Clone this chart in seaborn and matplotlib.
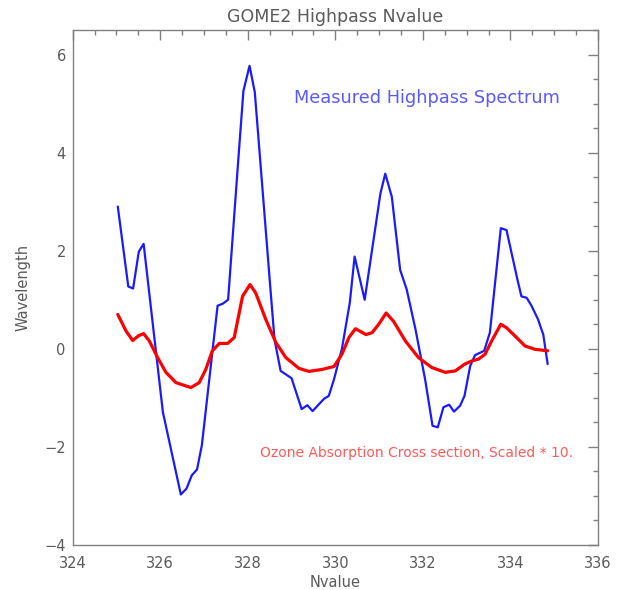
import matplotlib
matplotlib.use("Agg")
import matplotlib.pyplot as plt
from matplotlib.ticker import MultipleLocator
import seaborn as sns
import pandas as pd

# Measured highpass spectrum (blue)
blue_x = [325.03, 325.27, 325.38, 325.51, 325.62, 326.06, 326.47, 326.60, 326.72,
          326.84, 326.95, 327.31, 327.43, 327.55, 327.77, 327.90, 328.04,
          328.16, 328.50, 328.61, 328.75, 329.00, 329.23, 329.36, 329.48, 329.74,
          329.85, 329.97, 330.15, 330.33, 330.44, 330.67, 331.03, 331.14, 331.29,
          331.48, 331.63, 331.83, 332.05, 332.22, 332.34, 332.47, 332.60, 332.71,
          332.85, 332.95, 333.08, 333.19, 333.40, 333.53, 333.68, 333.78, 333.91,
          334.16, 334.25, 334.37, 334.48, 334.63, 334.75, 334.85]
blue_y = [2.90, 1.27, 1.23, 1.98, 2.14, -1.29, -2.97, -2.85, -2.58,
          -2.46, -1.97, 0.88, 0.92, 1.00, 3.70, 5.26, 5.77,
          5.23, 1.41, 0.19, -0.45, -0.60, -1.23, -1.15, -1.27, -1.02,
          -0.96, -0.62, 0.00, 0.94, 1.88, 1.00, 3.17, 3.57, 3.10,
          1.61, 1.21, 0.40, -0.62, -1.57, -1.60, -1.19, -1.14, -1.28,
          -1.16, -0.96, -0.35, -0.13, -0.04, 0.33, 1.61, 2.46, 2.42,
          1.41, 1.07, 1.04, 0.88, 0.60, 0.29, -0.31]

# Ozone absorption cross section, scaled * 10 (red)
red_x = [325.03, 325.22, 325.37, 325.51, 325.62, 325.75, 325.94, 326.13, 326.36,
         326.70, 326.89, 327.04, 327.19, 327.35, 327.54, 327.69, 327.88, 328.05,
         328.18, 328.41, 328.64, 328.87, 329.17, 329.40, 329.70, 329.97, 330.15,
         330.31, 330.46, 330.70, 330.84, 330.99, 331.16, 331.33, 331.60, 331.90,
         332.20, 332.51, 332.74, 332.96, 333.11, 333.27, 333.42, 333.57, 333.78,
         333.91, 334.14, 334.33, 334.56, 334.85]
red_y = [0.70, 0.36, 0.17, 0.27, 0.31, 0.16, -0.18, -0.48, -0.69,
         -0.79, -0.69, -0.42, -0.04, 0.11, 0.11, 0.23, 1.07, 1.31,
         1.14, 0.60, 0.13, -0.18, -0.40, -0.46, -0.42, -0.36, -0.11,
         0.23, 0.41, 0.29, 0.33, 0.50, 0.73, 0.56, 0.16, -0.18,
         -0.38, -0.48, -0.45, -0.31, -0.25, -0.21, -0.11, 0.16, 0.50,
         0.43, 0.23, 0.06, -0.01, -0.04]

title = "GOME2 Highpass Nvalue"
xlabel = "Nvalue"
ylabel = "Wavelength"
blue_label = "Measured Highpass Spectrum"
red_label = "Ozone Absorption Cross section, Scaled * 10."

sns.set_style("white")
plt.rcParams['font.family'] = ['DejaVu Sans']

fig = plt.figure(figsize=(6.24, 5.90), dpi=100)
ax = fig.add_axes([72.7 / 624, 1 - 545 / 590, (598 - 72.7) / 624, (545 - 30) / 590])

df_b = pd.DataFrame({"x": blue_x, "y": blue_y})
df_r = pd.DataFrame({"x": red_x, "y": red_y})
sns.lineplot(data=df_b, x="x", y="y", ax=ax, color="#1a1aff", linewidth=1.6, sort=False)
sns.lineplot(data=df_r, x="x", y="y", ax=ax, color="#ff0000", linewidth=2.3, sort=False)

ax.set_xlim(324, 336)
ax.set_ylim(-4, 6.5)
ax.xaxis.set_major_locator(MultipleLocator(2))
ax.xaxis.set_minor_locator(MultipleLocator(0.5))
ax.yaxis.set_major_locator(MultipleLocator(2))
ax.yaxis.set_minor_locator(MultipleLocator(0.5))

gray = "#808080"
lab = "#5a5a5a"
for s in ax.spines.values():
    s.set_color(gray)
    s.set_linewidth(1.0)
ax.tick_params(which="both", direction="in", top=True, right=True, color=gray,
               labelcolor=lab, labelsize=10.5, width=1.0)
ax.tick_params(which="major", length=7)
ax.tick_params(which="minor", length=3.5)
ax.tick_params(axis="x", which="major", pad=8)
ax.tick_params(axis="y", which="major", pad=5)

ax.set_xlabel(xlabel, color=lab, fontsize=10.5, labelpad=3)
ax.set_ylabel(ylabel, color=lab, fontsize=10.5, labelpad=10)
ax.set_title(title, color=lab, fontsize=12.5, pad=6)

ax.text(332.09, 5.11, blue_label, color="#5a5aff", fontsize=12.8, ha="center", va="center")
ax.text(331.86, -2.13, red_label, color="#ff5a5a", fontsize=10, ha="center", va="center")

fig.savefig("out.png", dpi=100, facecolor="white")
